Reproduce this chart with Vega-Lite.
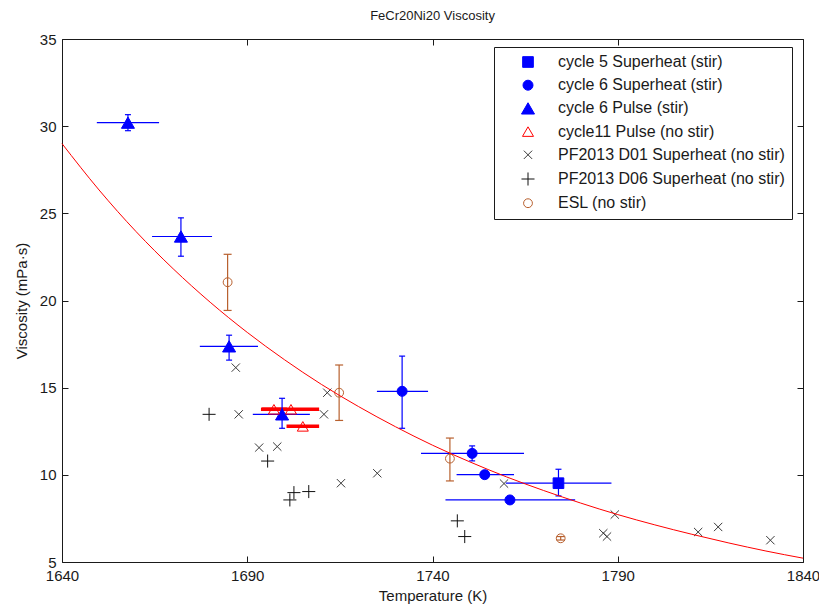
{
  "$schema": "https://vega.github.io/schema/vega-lite/v6.json",
  "width": 741,
  "height": 523,
  "autosize": {"type": "none"},
  "padding": {"left": 62, "top": 39, "right": 16, "bottom": 46},
  "background": "white",
  "title": {"text": "FeCr20Ni20 Viscosity", "fontSize": 13, "font": "Liberation Sans", "fontWeight": "normal", "color": "#1a1a1a", "offset": 9, "anchor": "middle"},
  "config": {
    "view": {"stroke": null},
    "axis": {
      "domainColor": "#1a1a1a", "tickColor": "#1a1a1a", "tickSize": -6, "grid": false,
      "labelFont": "Liberation Sans", "labelFontSize": 15, "labelColor": "#1a1a1a",
      "titleFont": "Liberation Sans", "titleFontSize": 15, "titleFontWeight": "normal", "titleColor": "#1a1a1a",
      "domainWidth": 1, "tickWidth": 1, "labelFlush": false, "labelOverlap": false
    }
  },
  "datasets": {
    "pts": [
      {"series": "cycle 5 Superheat (stir)", "T": 1774.0, "V": 9.52, "Tlo": 1759.8, "Thi": 1788.3, "Vlo": 8.79, "Vhi": 10.32},
      {"series": "cycle 6 Superheat (stir)", "T": 1731.8, "V": 14.79, "Tlo": 1725.0, "Thi": 1738.8, "Vlo": 12.67, "Vhi": 16.81},
      {"series": "cycle 6 Superheat (stir)", "T": 1750.7, "V": 11.23, "Tlo": 1736.9, "Thi": 1764.7, "Vlo": 10.8, "Vhi": 11.66},
      {"series": "cycle 6 Superheat (stir)", "T": 1754.1, "V": 10.01, "Tlo": 1746.5, "Thi": 1762.0, "Vlo": 9.86, "Vhi": 10.16},
      {"series": "cycle 6 Superheat (stir)", "T": 1760.9, "V": 8.56, "Tlo": 1743.5, "Thi": 1778.5, "Vlo": 8.42, "Vhi": 8.7},
      {"series": "cycle 6 Pulse (stir)", "T": 1657.8, "V": 30.2, "Tlo": 1649.4, "Thi": 1666.2, "Vlo": 29.74, "Vhi": 30.66},
      {"series": "cycle 6 Pulse (stir)", "T": 1672.1, "V": 23.67, "Tlo": 1664.3, "Thi": 1680.5, "Vlo": 22.54, "Vhi": 24.74},
      {"series": "cycle 6 Pulse (stir)", "T": 1685.1, "V": 17.37, "Tlo": 1677.2, "Thi": 1692.9, "Vlo": 16.58, "Vhi": 18.01},
      {"series": "cycle 6 Pulse (stir)", "T": 1699.4, "V": 13.47, "Tlo": 1691.5, "Thi": 1706.9, "Vlo": 12.67, "Vhi": 14.39},
      {"series": "cycle11 Pulse (no stir)", "T": 1697.2, "V": 13.76, "Tlo": 1693.7, "Thi": 1700.7},
      {"series": "cycle11 Pulse (no stir)", "T": 1701.8, "V": 13.76, "Tlo": 1694.0, "Thi": 1709.4},
      {"series": "cycle11 Pulse (no stir)", "T": 1705.0, "V": 12.78, "Tlo": 1700.6, "Thi": 1709.4},
      {"series": "PF2013 D01 Superheat (no stir)", "T": 1686.9, "V": 16.15},
      {"series": "PF2013 D01 Superheat (no stir)", "T": 1687.7, "V": 13.47},
      {"series": "PF2013 D01 Superheat (no stir)", "T": 1693.2, "V": 11.56},
      {"series": "PF2013 D01 Superheat (no stir)", "T": 1698.1, "V": 11.62},
      {"series": "PF2013 D01 Superheat (no stir)", "T": 1711.6, "V": 14.71},
      {"series": "PF2013 D01 Superheat (no stir)", "T": 1710.7, "V": 13.47},
      {"series": "PF2013 D01 Superheat (no stir)", "T": 1715.3, "V": 9.52},
      {"series": "PF2013 D01 Superheat (no stir)", "T": 1725.1, "V": 10.09},
      {"series": "PF2013 D01 Superheat (no stir)", "T": 1759.3, "V": 9.5},
      {"series": "PF2013 D01 Superheat (no stir)", "T": 1789.2, "V": 7.72},
      {"series": "PF2013 D01 Superheat (no stir)", "T": 1786.1, "V": 6.65},
      {"series": "PF2013 D01 Superheat (no stir)", "T": 1787.1, "V": 6.46},
      {"series": "PF2013 D01 Superheat (no stir)", "T": 1811.7, "V": 6.72},
      {"series": "PF2013 D01 Superheat (no stir)", "T": 1817.1, "V": 7.01},
      {"series": "PF2013 D01 Superheat (no stir)", "T": 1831.2, "V": 6.25},
      {"series": "PF2013 D06 Superheat (no stir)", "T": 1679.7, "V": 13.47},
      {"series": "PF2013 D06 Superheat (no stir)", "T": 1695.5, "V": 10.79},
      {"series": "PF2013 D06 Superheat (no stir)", "T": 1702.6, "V": 8.98},
      {"series": "PF2013 D06 Superheat (no stir)", "T": 1701.5, "V": 8.56},
      {"series": "PF2013 D06 Superheat (no stir)", "T": 1706.6, "V": 9.04},
      {"series": "PF2013 D06 Superheat (no stir)", "T": 1746.7, "V": 7.36},
      {"series": "PF2013 D06 Superheat (no stir)", "T": 1748.7, "V": 6.46},
      {"series": "ESL (no stir)", "T": 1684.7, "V": 21.05, "Vlo": 19.43, "Vhi": 22.65},
      {"series": "ESL (no stir)", "T": 1714.8, "V": 14.71, "Vlo": 13.12, "Vhi": 16.3},
      {"series": "ESL (no stir)", "T": 1744.7, "V": 10.93, "Vlo": 9.65, "Vhi": 12.11},
      {"series": "ESL (no stir)", "T": 1774.6, "V": 6.36, "Vlo": 6.26, "Vhi": 6.46}
    ],
    "curve": [
      {"T": 1640, "V": 29.0}, {"T": 1650, "V": 26.34}, {"T": 1660, "V": 23.95}, {"T": 1670, "V": 21.82},
      {"T": 1680, "V": 19.9}, {"T": 1690, "V": 18.17}, {"T": 1700, "V": 16.61}, {"T": 1710, "V": 15.19},
      {"T": 1720, "V": 13.92}, {"T": 1730, "V": 12.76}, {"T": 1740, "V": 11.7}, {"T": 1750, "V": 10.75},
      {"T": 1760, "V": 9.88}, {"T": 1770, "V": 9.1}, {"T": 1780, "V": 8.38}, {"T": 1790, "V": 7.72},
      {"T": 1800, "V": 7.13}, {"T": 1810, "V": 6.59}, {"T": 1820, "V": 6.09}, {"T": 1830, "V": 5.63},
      {"T": 1840, "V": 5.22}
    ]
  },
  "layer": [
    {
      "data": {"name": "pts"},
      "transform": [{"filter": {"field": "series", "oneOf": ["cycle 5 Superheat (stir)", "cycle 6 Superheat (stir)", "cycle 6 Pulse (stir)"]}}],
      "mark": {"type": "rule", "color": "#0000ff", "strokeWidth": 1.2},
      "encoding": {
        "x": {"field": "Tlo", "type": "quantitative", "scale": {"domain": [1640, 1840], "nice": false, "zero": false},
          "axis": {"orient": "bottom", "values": [1640, 1690, 1740, 1790, 1840], "format": "d", "title": "Temperature (K)", "labelPadding": 12, "titlePadding": 5}},
        "x2": {"field": "Thi"},
        "y": {"field": "V", "type": "quantitative", "scale": {"domain": [5, 35], "nice": false, "zero": false},
          "axis": {"orient": "left", "values": [5, 10, 15, 20, 25, 30, 35], "title": "Viscosity (mPa·s)", "labelPadding": 12, "titlePadding": 10}}
      }
    },
    {
      "data": {"name": "pts"},
      "transform": [{"filter": {"field": "series", "equal": "cycle11 Pulse (no stir)"}}],
      "mark": {"type": "rule", "color": "#ff0000", "strokeWidth": 3.5},
      "encoding": {
        "x": {"field": "Tlo", "type": "quantitative", "scale": {"domain": [1640, 1840], "nice": false, "zero": false}, "axis": null},
        "x2": {"field": "Thi"},
        "y": {"field": "V", "type": "quantitative", "scale": {"domain": [5, 35], "nice": false, "zero": false}, "axis": null}
      }
    },
    {
      "data": {"name": "pts"},
      "transform": [{"filter": {"field": "series", "oneOf": ["cycle 5 Superheat (stir)", "cycle 6 Superheat (stir)", "cycle 6 Pulse (stir)"]}}],
      "mark": {"type": "rule", "color": "#0000ff", "strokeWidth": 1.2},
      "encoding": {
        "x": {"field": "T", "type": "quantitative", "scale": {"domain": [1640, 1840], "nice": false, "zero": false}, "axis": null},
        "y": {"field": "Vlo", "type": "quantitative", "scale": {"domain": [5, 35], "nice": false, "zero": false}, "axis": null},
        "y2": {"field": "Vhi"}
      }
    },
    {
      "data": {"name": "pts"},
      "transform": [{"filter": {"field": "series", "oneOf": ["cycle 5 Superheat (stir)", "cycle 6 Superheat (stir)", "cycle 6 Pulse (stir)"]}}],
      "mark": {"type": "tick", "orient": "horizontal", "color": "#0000ff", "size": 6, "thickness": 1.2, "opacity": 1},
      "encoding": {
        "x": {"field": "T", "type": "quantitative", "scale": {"domain": [1640, 1840], "nice": false, "zero": false}, "axis": null},
        "y": {"field": "Vlo", "type": "quantitative", "scale": {"domain": [5, 35], "nice": false, "zero": false}, "axis": null}
      }
    },
    {
      "data": {"name": "pts"},
      "transform": [{"filter": {"field": "series", "oneOf": ["cycle 5 Superheat (stir)", "cycle 6 Superheat (stir)", "cycle 6 Pulse (stir)"]}}],
      "mark": {"type": "tick", "orient": "horizontal", "color": "#0000ff", "size": 6, "thickness": 1.2, "opacity": 1},
      "encoding": {
        "x": {"field": "T", "type": "quantitative", "scale": {"domain": [1640, 1840], "nice": false, "zero": false}, "axis": null},
        "y": {"field": "Vhi", "type": "quantitative", "scale": {"domain": [5, 35], "nice": false, "zero": false}, "axis": null}
      }
    },
    {
      "data": {"name": "pts"},
      "transform": [{"filter": {"field": "series", "equal": "ESL (no stir)"}}],
      "mark": {"type": "rule", "color": "#b8602e", "strokeWidth": 1.2},
      "encoding": {
        "x": {"field": "T", "type": "quantitative", "scale": {"domain": [1640, 1840], "nice": false, "zero": false}, "axis": null},
        "y": {"field": "Vlo", "type": "quantitative", "scale": {"domain": [5, 35], "nice": false, "zero": false}, "axis": null},
        "y2": {"field": "Vhi"}
      }
    },
    {
      "data": {"name": "pts"},
      "transform": [{"filter": {"field": "series", "equal": "ESL (no stir)"}}],
      "mark": {"type": "tick", "orient": "horizontal", "color": "#b8602e", "size": 8, "thickness": 1.2, "opacity": 1},
      "encoding": {
        "x": {"field": "T", "type": "quantitative", "scale": {"domain": [1640, 1840], "nice": false, "zero": false}, "axis": null},
        "y": {"field": "Vlo", "type": "quantitative", "scale": {"domain": [5, 35], "nice": false, "zero": false}, "axis": null}
      }
    },
    {
      "data": {"name": "pts"},
      "transform": [{"filter": {"field": "series", "equal": "ESL (no stir)"}}],
      "mark": {"type": "tick", "orient": "horizontal", "color": "#b8602e", "size": 8, "thickness": 1.2, "opacity": 1},
      "encoding": {
        "x": {"field": "T", "type": "quantitative", "scale": {"domain": [1640, 1840], "nice": false, "zero": false}, "axis": null},
        "y": {"field": "Vhi", "type": "quantitative", "scale": {"domain": [5, 35], "nice": false, "zero": false}, "axis": null}
      }
    },
    {
      "data": {"name": "pts"},
      "mark": {"type": "point", "opacity": 1, "strokeWidth": 1},
      "encoding": {
        "x": {"field": "T", "type": "quantitative", "scale": {"domain": [1640, 1840], "nice": false, "zero": false},
          "axis": {"orient": "top", "values": [1640, 1690, 1740, 1790, 1840], "labels": false, "title": null}},
        "y": {"field": "V", "type": "quantitative", "scale": {"domain": [5, 35], "nice": false, "zero": false},
          "axis": {"orient": "right", "values": [5, 10, 15, 20, 25, 30, 35], "labels": false, "title": null}},
        "shape": {"field": "series", "type": "nominal",
          "scale": {"domain": ["cycle 5 Superheat (stir)", "cycle 6 Superheat (stir)", "cycle 6 Pulse (stir)", "cycle11 Pulse (no stir)", "PF2013 D01 Superheat (no stir)", "PF2013 D06 Superheat (no stir)", "ESL (no stir)"],
            "range": ["square", "circle", "triangle-up", "triangle-up", "M-1,-1L1,1M-1,1L1,-1", "M-1,0L1,0M0,-1L0,1", "circle"]},
          "legend": {"title": null, "orient": "none", "legendX": 432, "legendY": 8, "strokeColor": "#1a1a1a", "fillColor": "white", "padding": 7, "labelFont": "Liberation Sans", "labelFontSize": 16, "labelColor": "#1a1a1a", "labelLimit": 400, "rowPadding": 7.2, "symbolOffset": 19, "labelOffset": 22, "symbolStrokeWidth": 1}},
        "fill": {"field": "series", "type": "nominal",
          "scale": {"domain": ["cycle 5 Superheat (stir)", "cycle 6 Superheat (stir)", "cycle 6 Pulse (stir)", "cycle11 Pulse (no stir)", "PF2013 D01 Superheat (no stir)", "PF2013 D06 Superheat (no stir)", "ESL (no stir)"],
            "range": ["#0000ff", "#0000ff", "#0000ff", "transparent", "transparent", "transparent", "transparent"]}},
        "stroke": {"field": "series", "type": "nominal",
          "scale": {"domain": ["cycle 5 Superheat (stir)", "cycle 6 Superheat (stir)", "cycle 6 Pulse (stir)", "cycle11 Pulse (no stir)", "PF2013 D01 Superheat (no stir)", "PF2013 D06 Superheat (no stir)", "ESL (no stir)"],
            "range": ["#0000ff", "#0000ff", "#0000ff", "#ff0000", "#3a3a3a", "#111111", "#b8602e"]}},
        "size": {"field": "series", "type": "nominal",
          "scale": {"type": "ordinal", "domain": ["cycle 5 Superheat (stir)", "cycle 6 Superheat (stir)", "cycle 6 Pulse (stir)", "cycle11 Pulse (no stir)", "PF2013 D01 Superheat (no stir)", "PF2013 D06 Superheat (no stir)", "ESL (no stir)"],
            "range": [114, 100, 170, 121, 69, 170, 78]}}
      }
    },
    {
      "data": {"name": "curve"},
      "mark": {"type": "line", "color": "#ff0000", "strokeWidth": 1, "interpolate": "monotone"},
      "encoding": {
        "x": {"field": "T", "type": "quantitative", "scale": {"domain": [1640, 1840], "nice": false, "zero": false}, "axis": null},
        "y": {"field": "V", "type": "quantitative", "scale": {"domain": [5, 35], "nice": false, "zero": false}, "axis": null}
      }
    }
  ]
}
